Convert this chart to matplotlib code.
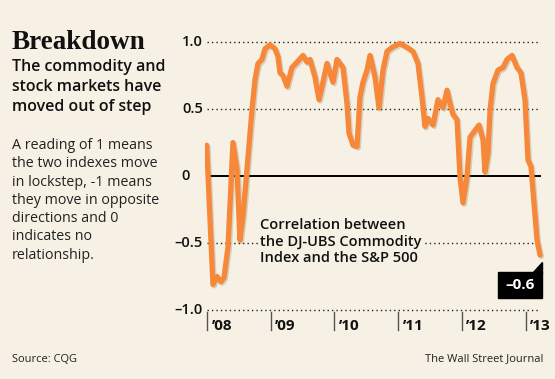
import matplotlib
matplotlib.use("Agg")
import matplotlib.pyplot as plt
import matplotlib.patheffects as pe
from matplotlib.patches import Polygon, Rectangle

# -------------------------------
# Data
# -------------------------------
years = [2007.995, 2008.094, 2008.157, 2008.220, 2008.267, 2008.330, 2008.408,
         2008.471, 2008.518, 2008.565, 2008.628, 2008.706, 2008.754, 2008.801,
         2008.863, 2008.911, 2008.989, 2009.068, 2009.115, 2009.146, 2009.193,
         2009.256, 2009.334, 2009.413, 2009.507, 2009.570, 2009.617, 2009.695,
         2009.758, 2009.821, 2009.884, 2009.978, 2010.041, 2010.135, 2010.198,
         2010.229, 2010.292, 2010.355, 2010.402, 2010.449, 2010.512, 2010.559,
         2010.637, 2010.700, 2010.763, 2010.826, 2010.904, 2011.030, 2011.140,
         2011.234, 2011.312, 2011.375, 2011.422, 2011.469, 2011.548, 2011.626,
         2011.705, 2011.768, 2011.815, 2011.862, 2011.925, 2011.972, 2012.019,
         2012.082, 2012.129, 2012.207, 2012.270, 2012.333, 2012.364, 2012.411,
         2012.443, 2012.490, 2012.568, 2012.647, 2012.710, 2012.788, 2012.867,
         2012.929, 2012.992, 2013.039, 2013.086, 2013.181, 2013.228]
corr = [0.23, -0.81, -0.75, -0.79, -0.76, -0.53, 0.25,
        0.05, -0.48, -0.30, 0.05, 0.49, 0.72, 0.84,
        0.87, 0.95, 0.98, 0.95, 0.89, 0.77, 0.75,
        0.67, 0.81, 0.85, 0.90, 0.85, 0.87, 0.74,
        0.57, 0.70, 0.84, 0.70, 0.87, 0.81, 0.54,
        0.32, 0.23, 0.22, 0.59, 0.70, 0.79, 0.90,
        0.74, 0.51, 0.79, 0.93, 0.96, 0.99, 0.96,
        0.93, 0.84, 0.59, 0.37, 0.43, 0.38, 0.57,
        0.51, 0.64, 0.54, 0.46, 0.42, -0.01, -0.20,
        0.00, 0.29, 0.34, 0.38, 0.27, 0.03, 0.17,
        0.49, 0.69, 0.79, 0.81, 0.87, 0.90, 0.81,
        0.77, 0.57, 0.12, 0.07, -0.48, -0.59]

year_ticks = [2008, 2009, 2010, 2011, 2012, 2013]
year_labels = ["\u201908", "\u201909", "\u201910", "\u201911", "\u201912", "\u201913"]
y_levels = [1.0, 0.5, -0.5, -1.0]
y_labels = ["1.0", "0.5", "\u20130.5", "\u20131.0"]
last_label = "\u20130.6"

BG = "#f6f1e4"
ORANGE = "#f7883a"
W, H = 555, 379


def px(x, y):
    return x / W, 1 - y / H


fig = plt.figure(figsize=(5.55, 3.79), dpi=100, facecolor=BG)
ax = fig.add_axes([205 / W, 1 - 335 / H, 340 / W, 305 / H])
ax.set_facecolor(BG)
ax.set_xlim(2007.969, 2013.306)
ax.set_ylim(-1.187, 1.09)
ax.axis("off")

# dotted gridlines and zero line
for lv in y_levels:
    ax.plot([2008.0, 2013.22], [lv, lv], color="#222222", lw=1.0,
            linestyle=(0, (1, 2.2)), zorder=1)
ax.plot([2008.05, 2013.22], [0, 0], color="black", lw=1.4, zorder=2)

# year ticks
for yr, lab in zip(year_ticks, year_labels):
    ax.plot([yr, yr], [-1.015, -1.15], color="#555555", lw=1.0, zorder=1)
    ax.text(yr + 0.07, -1.12, lab, fontsize=11, fontweight="bold",
            family="Open Sans", va="center", ha="left", color="#111111")

# y labels, decimal aligned
tr = ax.get_yaxis_transform()
for lv, lab in zip(y_levels, y_labels):
    ax.text(-0.006, lv, lab, transform=tr, ha="right", va="center",
            fontsize=10.5, fontweight="semibold", family="Open Sans",
            color="#111111")
ax.text(-0.045, 0, "0", transform=tr, ha="right", va="center",
        fontsize=10.5, fontweight="semibold", family="Open Sans",
        color="#111111")

# series line
ax.plot(years, corr, color=ORANGE, lw=3.8, solid_joinstyle="round",
        solid_capstyle="round", zorder=4,
        path_effects=[pe.SimpleLineShadow(offset=(1.0, -1.0), alpha=0.25,
                                          shadow_color="#7a6a50"),
                      pe.Normal()])

# series caption (with background to break the dotted line)
ax.text(2008.83, -0.31, "Correlation between\nthe DJ-UBS Commodity\nIndex and the S&P 500",
        fontsize=10.5, family="Open Sans", fontweight="semibold",
        va="top", ha="left", linespacing=1.25, color="#111111", zorder=3,
        bbox=dict(boxstyle="square,pad=0.15", fc=BG, ec="none"))

# last value box
fig.patches.append(Rectangle(px(498, 298), 44 / W, 26 / H,
                             transform=fig.transFigure, color="black", zorder=5))
fig.patches.append(Polygon([px(532, 273), px(542, 273), px(542, 262)],
                           transform=fig.transFigure, color="black", zorder=5))
fig.text(*px(520, 285), last_label, color="white", fontsize=11,
         fontweight="bold", family="Open Sans", ha="center", va="center",
         zorder=6)

# left-hand text
fig.text(*px(12, 49), "Breakdown", family="Liberation Serif", fontweight="bold",
         fontsize=19.5, ha="left", va="baseline", color="#111111")
fig.text(*px(12, 59), "The commodity and\nstock markets have\nmoved out of step",
         family="Open Sans", fontweight="semibold", fontsize=11.5,
         ha="left", va="top", linespacing=1.33, color="#111111")
fig.text(*px(12, 138), "A reading of 1 means\nthe two indexes move\nin lockstep, -1 means\n"
         "they move in opposite\ndirections and 0\nindicates no\nrelationship.",
         family="Open Sans", fontsize=10.3, ha="left", va="top",
         linespacing=1.3, color="#222222")

fig.text(*px(12, 359), "Source: CQG", family="Open Sans", fontsize=8,
         ha="left", va="center", color="#222222")
fig.text(*px(543, 359), "The Wall Street Journal", family="Open Sans", fontsize=8,
         ha="right", va="center", color="#222222")

fig.savefig("out.png", dpi=100, facecolor=BG)
